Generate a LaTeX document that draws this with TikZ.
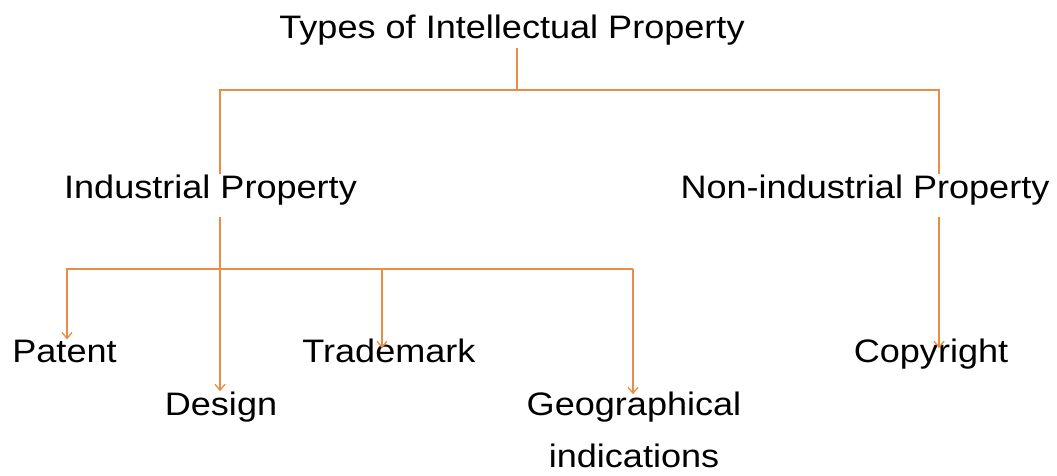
\documentclass[tikz,border=0pt]{standalone}
\usepackage{fontspec}
\setmainfont{Liberation Sans}[FakeStretch=1.11]
\usetikzlibrary{arrows.meta,calc}
\definecolor{lineorange}{RGB}{232,140,70}
\begin{document}
\begin{tikzpicture}[x=1pt,y=-1pt,
  lbl/.style={inner sep=0pt,anchor=base,font=\fontsize{32.5}{52}\selectfont,text=black},
  ln/.style={draw=lineorange,line width=1.3pt},
  arr/.style={ln,-{Straight Barb[length=6pt,width=10pt]}}]
\useasboundingbox (0,0) rectangle (1057,475);
% nodes
\node[lbl] (title) at (512,38) {Types of Intellectual Property};
\node[lbl] (ind) at (210.5,198) {Industrial Property};
\node[lbl] (non) at (865,198) {Non-industrial Property};
\node[lbl] (patent) at (64.5,362) {Patent};
\node[lbl] (trade) at (389,362) {Trademark};
\node[lbl] (copy) at (931,362) {Copyright};
\node[lbl] (design) at (221,415) {Design};
\node[lbl,align=center] (geo) at (634,467) {Geographical\\indications};
% junctions
\coordinate (b1) at (517,90);
\coordinate (cI) at (220,90);
\coordinate (cN) at (939,90);
\coordinate (b2) at (220,269);
\coordinate (bp) at (67,269);
\coordinate (bt) at (382,269);
\coordinate (bg) at (633,269);
% connectors
\draw[ln] ($(title.south -| b1)+(0,3)$) -- (b1);
\draw[ln] (ind.north -| cI) -- (cI) -- (cN) -- (non.north -| cN);
\draw[arr] ($(ind.south -| b2)+(0,12)$) -- (design.north -| b2);
\draw[arr] (bg) -- (bp) -- (patent.north -| bp);
\draw[arr] (bt) -- ($(trade.north -| bt)+(0,10)$);
\draw[arr] (bg) -- ($(geo.north -| bg)+(0,3)$);
\draw[arr] ($(non.south -| cN)+(0,12)$) -- ($(copy.north -| cN)+(0,10)$);
\end{tikzpicture}
\end{document}
